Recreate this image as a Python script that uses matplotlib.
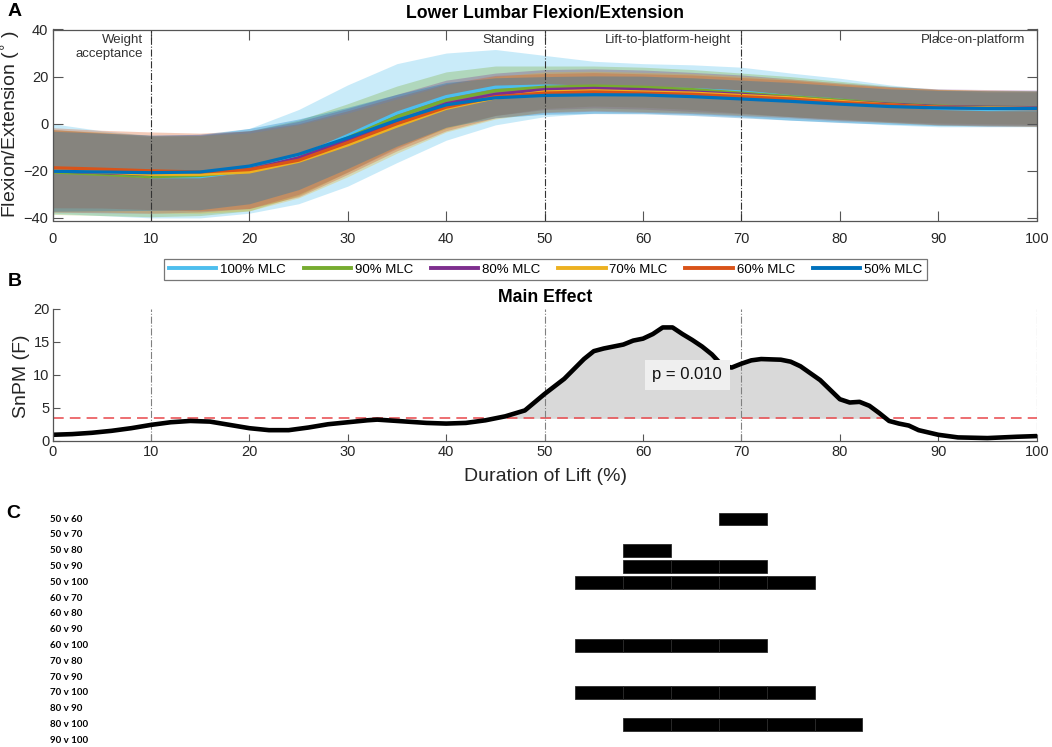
import numpy as np
import matplotlib
matplotlib.use('Agg')
import matplotlib.pyplot as plt
from matplotlib.lines import Line2D

plt.rcParams['font.family'] = ['Liberation Sans', 'DejaVu Sans']

# ---- Panel A data: mean and SD of lumbar angle, every 5 % of lift ----
pct = [0, 5, 10, 15, 20, 25, 30, 35, 40, 45, 50, 55, 60, 65, 70, 75, 80, 85, 90, 95, 100]

conditions = ['100% MLC', '90% MLC', '80% MLC', '70% MLC', '60% MLC', '50% MLC']
colors = ['#4DBEEE', '#77AC30', '#7E2F8E', '#EDB120', '#D95319', '#0072BD']

mean_100 = [-19, -21, -22.5, -22.5, -20, -14, -5, 4.5, 11.5, 15.5, 16, 15.5, 15, 14.5, 13.5, 11.5, 10, 8, 6.5, 6, 6]
sd_100 = [19, 18, 17.5, 17.5, 18, 20, 21.5, 21, 18.5, 16, 13, 11, 10.5, 10.5, 10.5, 10, 9.3, 8.5, 7.8, 7.3, 7.3]
mean_90 = [-20.5, -21.5, -22.5, -22, -20, -14.5, -6, 3, 10, 14, 15.5, 16, 15.5, 14.5, 13, 11.5, 10, 8.5, 7.5, 7, 6.8]
sd_90 = [18, 17.5, 17, 17, 17, 16, 14.5, 13, 12, 10.5, 9, 8.5, 8.5, 8.5, 8.5, 8.5, 8, 7.5, 7.2, 7, 7]
mean_80 = [-20, -20.8, -21.5, -21, -19.5, -14.5, -7, 1, 8.5, 12.5, 14.5, 15, 14.5, 13.5, 12.5, 11, 9.5, 8.3, 7.3, 7, 6.8]
sd_80 = [17.5, 17, 16.5, 16.5, 16.5, 15.5, 13.5, 11.5, 10, 9, 8.5, 8.3, 8.3, 8.3, 8.2, 8, 7.8, 7.5, 7.5, 7.5, 7.5]
mean_70 = [-20, -20.5, -21.5, -21.5, -20.5, -16, -9, -1, 6.5, 11, 13.5, 14, 13.5, 13, 12, 11, 9.5, 8, 7, 6.8, 6.5]
sd_70 = [17.5, 17, 16.5, 16.5, 16.5, 15.5, 13.5, 11.5, 10, 9, 8.5, 8.3, 8.3, 8.3, 8.2, 8, 7.8, 7.5, 7.5, 7.5, 7.5]
mean_60 = [-18.7, -19.3, -20, -20.5, -19.5, -15.5, -8, 0, 7, 11.5, 13, 13.5, 13, 12.5, 11.5, 10.5, 9, 8, 7, 6.5, 6.3]
sd_60 = [17, 16.5, 16.5, 16.5, 16.5, 15.5, 13.5, 11.5, 10, 9, 8.3, 8.2, 8.2, 8.2, 8.1, 8, 7.8, 7.5, 7.5, 7.5, 7.5]
mean_50 = [-20.2, -20.5, -20.8, -20.5, -18, -13, -6, 1.5, 8, 11, 12, 12.3, 12.2, 11.5, 10.5, 9.5, 8.3, 7.3, 6.7, 6.5, 6.5]
sd_50 = [17, 16.5, 16, 16, 16, 15, 13, 11, 9.5, 8.5, 8, 8, 8, 8, 8, 8, 7.8, 7.5, 7.5, 7.5, 7.5]

means = [mean_100, mean_90, mean_80, mean_70, mean_60, mean_50]
sds = [sd_100, sd_90, sd_80, sd_70, sd_60, sd_50]

phase_lines = [10, 50, 70]
phase_names = ['Weight\nacceptance', 'Standing', 'Lift-to-platform-height', 'Place-on-platform']
phase_label_x = [9.2, 49.05, 68.95, 98.8]

# ---- Panel B data: SnPM F statistic ----
spm_x = [0, 2, 4, 6, 8, 10, 12, 14, 16, 18, 20, 22, 24, 26, 28, 30, 32, 33, 35, 38, 40, 42, 44, 46, 48,
         50, 52, 54, 55, 56, 58, 59, 60, 61, 62, 63, 64, 65, 66, 67, 68, 69, 70, 71, 72, 74, 75, 76, 78,
         80, 81, 82, 83, 84, 85, 86, 87, 88, 90, 92, 95, 98, 100]
spm_f = [0.9, 1.0, 1.2, 1.5, 1.9, 2.4, 2.8, 3.0, 2.9, 2.4, 1.9, 1.6, 1.6, 2.0, 2.5, 2.8, 3.1, 3.2, 3.0, 2.7, 2.6, 2.7, 3.1, 3.7, 4.6,
         7.1, 9.4, 12.4, 13.6, 14.0, 14.6, 15.2, 15.5, 16.2, 17.2, 17.2, 16.2, 15.3, 14.3, 13.1, 11.5, 11.1, 11.7, 12.2, 12.4, 12.3, 12.0, 11.3, 9.2,
         6.3, 5.8, 5.9, 5.3, 4.2, 3.0, 2.6, 2.3, 1.6, 0.9, 0.5, 0.4, 0.6, 0.7]
f_crit = 3.4
p_text = 'p = 0.010'
main_lines = [10, 50, 70, 100]

# ---- Panel C data: post-hoc pairwise comparisons ----
pairs = ['50 v 60', '50 v 70', '50 v 80', '50 v 90', '50 v 100', '60 v 70', '60 v 80', '60 v 90',
         '60 v 100', '70 v 80', '70 v 90', '70 v 100', '80 v 90', '80 v 100', '90 v 100']
block_edges = [53.1, 58.0, 62.8, 67.7, 72.6, 77.5, 82.3]
sig_blocks = {'50 v 60': [3], '50 v 80': [1], '50 v 90': [1, 2, 3], '50 v 100': [0, 1, 2, 3, 4],
              '60 v 100': [0, 1, 2, 3], '70 v 100': [0, 1, 2, 3, 4], '80 v 100': [1, 2, 3, 4, 5]}

W, H = 1052, 747
fig = plt.figure(figsize=(W / 100, H / 100), dpi=100)


def px_axes(l, t, r, b):
    return fig.add_axes([l / W, 1 - b / H, (r - l) / W, (b - t) / H])


axis_grey = '#555555'

# ---------------- Panel A ----------------
axA = px_axes(52.5, 29.5, 1036.7, 220.5)
for m, s, c in zip(means, sds, colors):
    m = np.array(m)
    s = np.array(s)
    axA.fill_between(pct, m - s, m + s, color=c, alpha=0.3, linewidth=0)
    axA.plot(pct, m, color=c, linewidth=2.3)
for xv in phase_lines:
    axA.axvline(xv, color='#333333', linestyle='-.', linewidth=0.8)
for name, xv in zip(phase_names, phase_label_x):
    axA.text(xv, 38.3, name, ha='right', va='top', fontsize=9.5, color='#333333',
             multialignment='right', linespacing=1.3)
axA.set_xlim(0, 100)
axA.set_ylim(-41.1, 40)
axA.set_xticks(range(0, 101, 10))
axA.set_yticks([-40, -20, 0, 20, 40])
axA.tick_params(direction='in', top=True, right=True, length=7, width=0.8, color=axis_grey,
                labelsize=10.5, labelcolor='#262626', pad=8)
axA.tick_params(axis='y', pad=3)
for sp in axA.spines.values():
    sp.set_color(axis_grey)
    sp.set_linewidth(0.9)

fig.text(544.5 / W, 1 - 14 / H, 'Lower Lumbar Flexion/Extension', ha='center', va='center',
         fontsize=12.7, fontweight='bold')
fig.text(11 / W, 1 - 124 / H, 'Flexion/Extension ($^{\\circ}$ )', rotation=90, ha='center', va='center',
         fontsize=14, color='#262626')

handles = [Line2D([0], [0], color=c, linewidth=2.8) for c in colors]
leg = fig.legend(handles, conditions, ncol=6, loc='center', bbox_to_anchor=(545.5 / W, 1 - 269.4 / H),
                 frameon=True, fancybox=False, edgecolor=axis_grey, fontsize=9.5, handlelength=3.6,
                 columnspacing=1.33, handletextpad=0.3, borderpad=0.35)
leg.get_frame().set_linewidth(0.9)

# ---------------- Panel B ----------------
axB = px_axes(52.5, 309, 1036.7, 440.7)
fx = np.array(spm_x, dtype=float)
ff = np.array(spm_f)
axB.fill_between(fx, f_crit, ff, where=ff > f_crit, interpolate=True, color='#d9d9d9', linewidth=0)
axB.axhline(f_crit, color='#e8474a', linestyle=(0, (7, 4)), linewidth=1.1)
for xv in main_lines:
    axB.axvline(xv, color='#808080', linestyle='-.', linewidth=0.8)
axB.plot(fx, ff, color='black', linewidth=3.3, solid_capstyle='round')
axB.text(64.5, 10.05, p_text, ha='center', va='center', fontsize=12, color='#111111',
         bbox=dict(boxstyle='square,pad=0.45', facecolor='#efefef', edgecolor='none'))
axB.set_xlim(0, 100)
axB.set_ylim(0, 20)
axB.set_xticks(range(0, 101, 10))
axB.set_yticks([0, 5, 10, 15, 20])
axB.spines['top'].set_visible(False)
axB.spines['right'].set_visible(False)
for sp in ['left', 'bottom']:
    axB.spines[sp].set_color(axis_grey)
    axB.spines[sp].set_linewidth(0.9)
axB.tick_params(direction='in', length=5, width=0.8, color=axis_grey, labelsize=10.5,
                labelcolor='#262626', pad=3)
axB.tick_params(axis='y', pad=2)
fig.text(545 / W, 1 - 297 / H, 'Main Effect', ha='center', va='center', fontsize=12.7, fontweight='bold')
fig.text(22 / W, 1 - 376.7 / H, 'SnPM (F)', rotation=90, ha='center', va='center', fontsize=14,
         color='#262626')
fig.text(545 / W, 1 - 477 / H, 'Duration of Lift (%)', ha='center', va='center', fontsize=14,
         color='#262626')

# ---------------- Panel C ----------------
axC = px_axes(52.5, 511.1, 1036.7, 747)
for i, name in enumerate(pairs):
    axC.text(-0.25, i, name, ha='left', va='center', fontsize=7, fontweight='bold',
             family=['Lato', 'DejaVu Sans'], clip_on=False)
    for b in sig_blocks.get(name, []):
        axC.barh(i, block_edges[b + 1] - block_edges[b], left=block_edges[b], height=0.8,
                 color='black', edgecolor='#2a2a2a', linewidth=0.6)
axC.set_xlim(0, 100)
axC.set_ylim(14.43, -0.5)
axC.axis('off')

# panel letters
fig.text(15 / W, 1 - 11 / H, 'A', ha='center', va='center', fontsize=14, fontweight='bold')
fig.text(15 / W, 1 - 282 / H, 'B', ha='center', va='center', fontsize=14, fontweight='bold')
fig.text(13 / W, 1 - 513 / H, 'C', ha='center', va='center', fontsize=14, fontweight='bold')

fig.savefig('out.png', dpi=100)
